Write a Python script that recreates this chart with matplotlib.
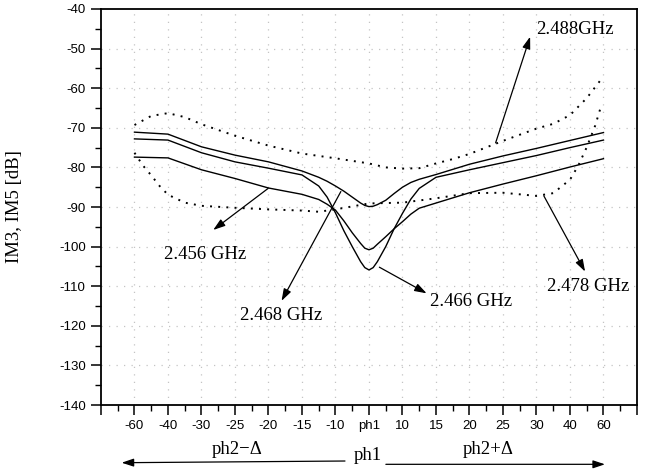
import matplotlib
matplotlib.use("Agg")
import matplotlib.pyplot as plt

plt.rcParams['axes.unicode_minus'] = False

# category positions along the x axis (1..15) and their labels
tick_labels = ['-60', '-40', '-30', '-25', '-20', '-15', '-10', 'ph1',
               '10', '15', '20', '25', '30', '40', '60']

# solid curves, x in category units
solid_x = [1, 2, 3, 4, 5, 6, 6.5, 6.75, 7, 7.25, 7.5, 7.75, 7.875, 8, 8.125,
           8.25, 8.5, 8.75, 9, 9.25, 9.5, 10, 11, 12, 13, 14, 15]
curve_a = [-71.1, -71.6, -74.8, -76.9, -78.6, -80.9, -82.5, -83.5, -84.7,
           -86.0, -87.5, -89.0, -89.6, -89.9, -89.8, -89.4, -88.3, -86.6,
           -85.0, -83.8, -83.0, -81.8, -79.2, -77.1, -75.2, -73.2, -71.2]
curve_c = [-72.8, -73.1, -76.3, -78.6, -80.2, -81.9, -84.7, -87.5, -91.5,
           -96.0, -100.0, -103.8, -105.3, -105.9, -105.3, -103.8, -100.0,
           -95.5, -91.6, -88.0, -85.3, -82.5, -80.6, -78.8, -77.0, -75.0,
           -73.1]
curve_b = [-77.4, -77.6, -80.6, -82.8, -85.2, -86.8, -88.1, -89.3, -90.8,
           -93.5, -96.5, -99.2, -100.4, -100.8, -100.4, -99.4, -97.5, -95.5,
           -93.7, -91.8, -90.3, -89.0, -86.4, -84.2, -82.1, -79.9, -77.8]

# dotted curves
upper_x = [1, 1.5, 2, 2.5, 3, 4, 5, 6, 7, 8, 8.5, 9, 9.5, 10, 10.5, 11, 12,
           13, 13.5, 14, 14.5, 14.9]
upper_y = [-69.3, -67.0, -66.3, -67.3, -69.1, -72.0, -74.5, -76.5, -77.7,
           -79.0, -80.0, -80.3, -80.2, -79.0, -77.9, -76.6, -73.3, -70.2,
           -69.0, -66.8, -62.5, -58.1]
lower_x = [1, 1.25, 1.5, 1.75, 2, 2.5, 3, 4, 5, 6, 6.5, 7, 8, 9, 10, 11, 12,
           13, 13.5, 14, 14.25, 14.5, 14.75, 14.9]
lower_y = [-76.3, -79.5, -82.0, -84.7, -86.9, -88.9, -89.7, -90.2, -90.6,
           -90.9, -91.2, -90.6, -89.1, -88.9, -87.8, -86.5, -86.4, -87.2,
           -86.5, -83.1, -79.5, -74.9, -69.5, -65.3]

# annotations: text, text position, arrow tail, arrow head (data units)
notes = [
    ('2.488GHz', (12.99, -45.3), (11.78, -73.8), (12.81, -47.0), 'left'),
    ('2.456 GHz', (3.1, -102.1), (4.99, -85.3), (3.35, -95.8), 'center'),
    ('2.468 GHz', (5.39, -117.3), (7.16, -86.1), (5.39, -113.7), 'center'),
    ('2.466 GHz', (11.06, -113.9), (8.31, -105.2), (9.72, -111.8), 'center'),
    ('2.478 GHz', (14.54, -110.0), (13.22, -87.2), (14.45, -106.3), 'center'),
]

serif = ['Liberation Serif', 'DejaVu Serif']
sans = ['Liberation Sans', 'DejaVu Sans']
arrow = dict(arrowstyle='-|>,head_length=0.6,head_width=0.2', color='black',
             lw=0.9, mutation_scale=12, shrinkA=0, shrinkB=0)

fig = plt.figure(figsize=(6.54, 4.71), dpi=100)
ax = fig.add_axes([0.1544, 0.1401, 0.8196, 0.8408])

for vals in (curve_a, curve_c, curve_b):
    ax.plot(solid_x, vals, color='black', lw=1.0, zorder=3,
            solid_joinstyle='round')
for xs, ys in ((upper_x, upper_y), (lower_x, lower_y)):
    ax.plot(xs, ys, color='black', lw=1.4, linestyle=(0, (1, 3.2)), zorder=3)

ax.set_xlim(0, 16)
ax.set_ylim(-140, -40)
ax.set_xticks(range(0, 17))
ax.set_xticklabels([''] + tick_labels + [''], family=sans, fontsize=9.5)
ax.set_xticks([i + 0.5 for i in range(16)], minor=True)
ax.set_yticks(range(-140, -39, 10))
ax.set_yticklabels([str(v) for v in range(-140, -39, 10)], family=sans, fontsize=9.5)
ax.set_yticks(range(-135, -40, 10), minor=True)
ax.tick_params(which='major', length=7, width=1.1, direction='out', pad=4)
ax.tick_params(which='minor', length=4, width=1.0, direction='out')
for sp in ax.spines.values():
    sp.set_linewidth(1.3)

for x in range(1, 16):
    ax.axvline(x, color='#c4c4c4', lw=0.9, linestyle=(0, (1, 5)), zorder=1)
for y in range(-130, -40, 10):
    ax.axhline(y, color='#c4c4c4', lw=0.9, linestyle=(0, (1, 5)), zorder=1)

ax.set_ylabel('IM3, IM5 [dB]', family=serif, fontsize=13.5)
ax.yaxis.set_label_coords(-0.145, 0.5)

for text, tpos, tail, head, ha in notes:
    ax.annotate('', xy=head, xytext=tail, arrowprops=arrow)
    ax.text(tpos[0], tpos[1], text, family=serif, fontsize=13.5,
            ha=ha, va='center')

# direction arrows under the axis
ax.annotate('', xy=(0.186, 0.0176), xytext=(0.5275, 0.0212),
            xycoords='figure fraction', textcoords='figure fraction',
            arrowprops=arrow)
ax.annotate('', xy=(0.925, 0.0142), xytext=(0.590, 0.0142),
            xycoords='figure fraction', textcoords='figure fraction',
            arrowprops=arrow)
fig.text(0.362, 0.0446, 'ph2\u2212\u0394', family=serif, fontsize=13.5,
         ha='center', va='center')
fig.text(0.563, 0.032, 'ph1', family=serif, fontsize=13.5,
         ha='center', va='center')
fig.text(0.746, 0.0446, 'ph2+\u0394', family=serif, fontsize=13.5,
         ha='center', va='center')

fig.savefig('out.png', dpi=100)
